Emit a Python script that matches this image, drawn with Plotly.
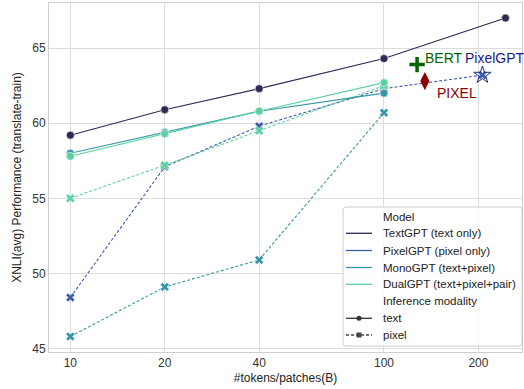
import plotly.graph_objects as go

# ---- data ----
x_main = [10, 20, 40, 100]
textgpt_x = [10, 20, 40, 100, 244]
textgpt_text = [59.2, 60.9, 62.3, 64.3, 67.0]
pixelgpt_x = [10, 20, 40, 100, 206]
pixelgpt_pixel = [48.4, 57.1, 59.8, 62.3, 63.2]
monogpt_text = [58.0, 59.4, 60.8, 62.0]
monogpt_pixel = [45.8, 49.1, 50.9, 60.7]
dualgpt_text = [57.8, 59.3, 60.8, 62.7]
dualgpt_pixel = [55.0, 57.2, 59.5, 62.5]

bert_pt = (127.5, 63.9)
pixel_pt = (135, 62.8)
pixelgpt_star = (206, 63.2)

x_ticks = [10, 20, 40, 100, 200]
y_ticks = [45, 50, 55, 60, 65]

model_names = ["TextGPT (text only)", "PixelGPT (pixel only)",
               "MonoGPT (text+pixel)", "DualGPT (text+pixel+pair)"]
modality_names = ["text", "pixel"]

C_TEXT = "#2e2a52"
C_PIX = "#3b5ca8"
C_MONO = "#3596a8"
C_DUAL = "#5bd1a3"
model_colors = [C_TEXT, C_PIX, C_MONO, C_DUAL]

FONT = "Liberation Sans, Arial, sans-serif"
DASH = "3px,2px"

W, H = 524, 389
ML, MR, MT, MB = 49, 2, 3, 37
PW, PH = W - ML - MR, H - MT - MB

def px(xp):
    return (xp - ML) / PW

def py(yp):
    return (H - MB - yp) / PH

fig = go.Figure()

def add(x, y, color, dashed):
    fig.add_trace(go.Scatter(
        x=x, y=y, mode="lines+markers",
        line=dict(color=color, width=1.1, dash=DASH if dashed else "solid"),
        marker=dict(symbol="x" if dashed else "circle",
                    size=8, color=color,
                    line=dict(color="white", width=0.6)),
        showlegend=False, hoverinfo="skip"))

add(x_main, monogpt_pixel, C_MONO, True)
add(pixelgpt_x, pixelgpt_pixel, C_PIX, True)
add(x_main, dualgpt_pixel, C_DUAL, True)
add(x_main, monogpt_text, C_MONO, False)
add(x_main, dualgpt_text, C_DUAL, False)
add(textgpt_x, textgpt_text, C_TEXT, False)

# reference points
fig.add_trace(go.Scatter(x=[bert_pt[0]], y=[bert_pt[1]], mode="markers",
                         marker=dict(symbol="cross-thin", size=11, color="darkgreen",
                                     line=dict(color="darkgreen", width=3.5)),
                         showlegend=False, hoverinfo="skip"))
fig.add_trace(go.Scatter(x=[pixel_pt[0]], y=[pixel_pt[1]], mode="markers",
                         marker=dict(symbol="diamond-tall", size=13, color="darkred"),
                         showlegend=False, hoverinfo="skip"))
fig.add_trace(go.Scatter(x=[pixelgpt_star[0]], y=[pixelgpt_star[1]], mode="markers",
                         marker=dict(symbol="star-open", size=13, color="#1a2a8b",
                                     line=dict(width=1)),
                         showlegend=False, hoverinfo="skip"))

# annotations
fig.add_annotation(x=2.1247, y=64.31, xref="x", yref="y", text="BERT", showarrow=False,
                   xanchor="left", yanchor="middle",
                   font=dict(family=FONT, size=14, color="darkgreen"))
fig.add_annotation(x=2.2522, y=64.31, xref="x", yref="y", text="PixelGPT", showarrow=False,
                   xanchor="left", yanchor="middle",
                   font=dict(family=FONT, size=14, color="#1a1a8b"))
fig.add_annotation(x=2.162, y=62.03, xref="x", yref="y", text="PIXEL", showarrow=False,
                   xanchor="left", yanchor="middle",
                   font=dict(family=FONT, size=14, color="darkred"))

# ---- hand-drawn legend (seaborn style) ----
LX0, LX1, LY0, LY1 = 343, 522, 207, 346
r = 3
x0, x1, y0, y1 = px(LX0), px(LX1), py(LY1), py(LY0)
rx, ry = r / PW, r / PH
path = (f"M {x0+rx},{y1} L {x1-rx},{y1} Q {x1},{y1} {x1},{y1-ry} "
        f"L {x1},{y0+ry} Q {x1},{y0} {x1-rx},{y0} L {x0+rx},{y0} "
        f"Q {x0},{y0} {x0},{y0+ry} L {x0},{y1-ry} Q {x0},{y1} {x0+rx},{y1} Z")
fig.add_shape(type="path", path=path, xref="paper", yref="paper",
              fillcolor="rgba(255,255,255,0.85)", line=dict(color="#cccccc", width=1))

row_y = [216.7, 233.3, 250.5, 267.5, 284.3, 301.2, 318.3, 335.0]
entries = (["Model"] + model_names + ["Inference modality"] + modality_names)
TXT_X = 381
for i, (name, yy) in enumerate(zip(entries, row_y)):
    fig.add_annotation(x=px(TXT_X), y=py(yy), xref="paper", yref="paper", text=name,
                       showarrow=False, xanchor="left", yanchor="middle",
                       font=dict(family=FONT, size=11.5, color="#222222"))
for c, yy in zip(model_colors, row_y[1:5]):
    fig.add_shape(type="line", xref="paper", yref="paper",
                  x0=px(346), x1=px(372), y0=py(yy), y1=py(yy),
                  line=dict(color=c, width=1.3))
# text modality: solid with dot
fig.add_shape(type="line", xref="paper", yref="paper",
              x0=px(346), x1=px(372), y0=py(row_y[6]), y1=py(row_y[6]),
              line=dict(color="#333333", width=1.3))
fig.add_shape(type="circle", xref="paper", yref="paper",
              x0=px(356.5), x1=px(361.5), y0=py(row_y[6] + 2.5), y1=py(row_y[6] - 2.5),
              fillcolor="#333333", line=dict(color="#333333", width=0))
# pixel modality: dashed with marker
fig.add_shape(type="line", xref="paper", yref="paper",
              x0=px(346), x1=px(372), y0=py(row_y[7]), y1=py(row_y[7]),
              line=dict(color="#444444", width=1.3, dash=DASH))
fig.add_shape(type="rect", xref="paper", yref="paper",
              x0=px(356.5), x1=px(361.5), y0=py(row_y[7] + 2.5), y1=py(row_y[7] - 2.5),
              fillcolor="#444444", line=dict(color="#444444", width=0))

axis_common = dict(showgrid=True, gridcolor="#dddddd", gridwidth=1,
                   showline=True, linecolor="#cfcfcf", linewidth=1, mirror=True,
                   zeroline=False, ticks="", automargin=False,
                   tickfont=dict(family=FONT, size=12, color="#333333"))

fig.update_xaxes(type="log", range=[0.932, 2.440], tickvals=x_ticks,
                 ticktext=[str(v) for v in x_ticks],
                 title=dict(text="#tokens/patches(B)", standoff=4,
                            font=dict(family=FONT, size=12, color="#222222")),
                 **axis_common)
fig.update_yaxes(range=[44.77, 68.0], tickvals=y_ticks,
                 title=dict(text="XNLI(avg) Performance (translate-train)", standoff=8,
                            font=dict(family=FONT, size=12, color="#222222")),
                 **axis_common)

fig.update_layout(
    width=W, height=H,
    margin=dict(l=ML, r=MR, t=MT, b=MB, autoexpand=False),
    plot_bgcolor="white", paper_bgcolor="white",
    font=dict(family=FONT, size=12, color="#222222"),
    showlegend=False,
)

fig.write_html("out.html", config={"displayModeBar": False},
               post_script="document.body.style.margin='0px';document.body.style.overflow='hidden';")
